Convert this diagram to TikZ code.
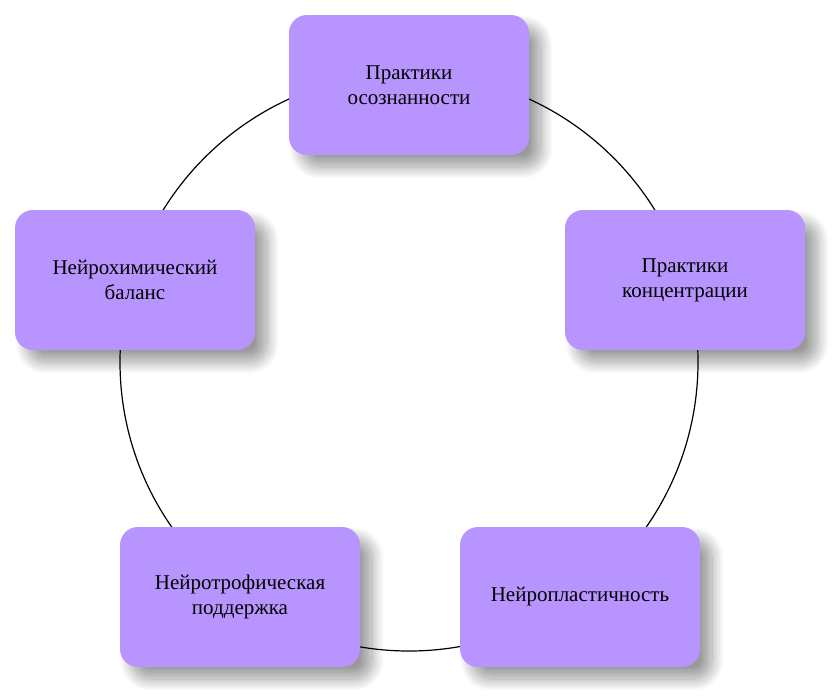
\documentclass[tikz,border=0pt]{standalone}
\usepackage{fontspec}
\setmainfont{Liberation Serif}
\usetikzlibrary{shadows.blur,positioning}
\definecolor{boxviolet}{HTML}{B895FE}

\begin{document}
\begin{tikzpicture}[x=1pt,y=-1pt,
            stage/.style={rectangle, fill=boxviolet, rounded corners=18pt,
            minimum width=240pt, minimum height=140pt, text width=220pt, align=center,
            font=\fontsize{21}{25}\selectfont,
            blur shadow={shadow xshift=12pt, shadow yshift=-12pt, shadow blur radius=12pt, shadow blur steps=20, shadow opacity=40}}]
            \useasboundingbox (0,0) rectangle (834,697);
            \coordinate (centre) at (409,362);
            \draw [line width=1.2pt] (centre) circle [radius=289];

            \node (mindful) [stage] at (409,85) {Практики\\осознанности};
            \node (focus) [stage] at (685,280) {Практики\\концентрации};
            \node (plastic) [stage] at (580,597) {Нейропластичность};
            \node (trophic) [stage] at (240,597) {Нейротрофическая\\поддержка};
            \node (chemical) [stage] at (135,280) {Нейрохимический\\баланс};
        \end{tikzpicture}
\end{document}
